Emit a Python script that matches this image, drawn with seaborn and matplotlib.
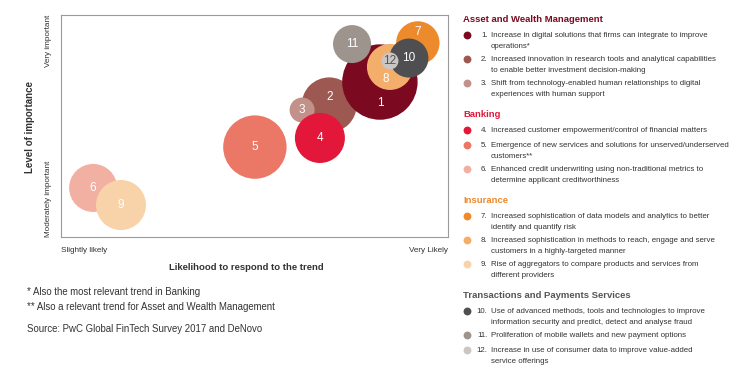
import pandas as pd
import seaborn as sns
import matplotlib.pyplot as plt

# Bubble data (x = likelihood to respond, y = level of importance, both 0-100)
trend_ids = ['1', '2', '3', '4', '5', '6', '7', '8', '9', '10', '11', '12']
likelihood = [82.4, 69.3, 62.3, 66.9, 50.1, 8.3, 92.2, 85.0, 15.5, 89.9, 75.2, 85.0]
importance = [69.8, 59.5, 57.2, 44.6, 40.5, 22.1, 87.4, 76.6, 14.4, 80.6, 86.9, 79.3]
bubble_radius = [37.7, 27.5, 12.5, 25.0, 31.7, 24.0, 21.7, 23.0, 25.0, 19.5, 19.0, 8.5]
colors = ['#7b0a20', '#9e5852', '#c1918a', '#e2173a', '#eb7767', '#f2b0a3',
          '#ec8a2c', '#f4ae6b', '#f8d2a9', '#4f4f51', '#9d948e', '#c9c6c3']
label_colors = ['white'] * 11 + ['#555555']

# Legend text
groups = ['Asset and Wealth Management', 'Banking', 'Insurance',
          'Transactions and Payments Services']
group_colors = ['#7b0a20', '#e0173a', '#ec8a2c', '#555555']
group_items = [
    [['Increase in digital solutions that firms can integrate to improve', 'operations*'],
     ['Increased innovation in research tools and analytical capabilities', 'to enable better investment decision-making'],
     ['Shift from technology-enabled human relationships to digital', 'experiences with human support']],
    [['Increased customer empowerment/control of financial matters'],
     ['Emergence of new services and solutions for unserved/underserved', 'customers**'],
     ['Enhanced credit underwriting using non-traditional metrics to', 'determine applicant creditworthiness']],
    [['Increased sophistication of data models and analytics to better', 'identify and quantify risk'],
     ['Increased sophistication in methods to reach, engage and serve', 'customers in a highly-targeted manner'],
     ['Rise of aggregators to compare products and services from', 'different providers']],
    [['Use of advanced methods, tools and technologies to improve', 'information security and predict, detect and analyse fraud'],
     ['Proliferation of mobile wallets and new payment options'],
     ['Increase in use of consumer data to improve value-added', 'service offerings']],
]
footnotes = ['* Also the most relevant trend in Banking',
             '** Also a relevant trend for Asset and Wealth Management']
source = 'Source: PwC Global FinTech Survey 2017 and DeNovo'

# which bubble sits on top of which
draw_order = ['2', '3', '4', '1', '5', '6', '9', '11', '7', '8', '10', '12']
# small nudges for the numbers inside partly hidden bubbles (points)
label_nudge = {'1': (0, -15), '2': (0, 6), '7': (0, 8), '8': (-3, -9)}

sns.set_theme(style='white')
plt.rcParams['font.family'] = ['Liberation Sans', 'DejaVu Sans']
txt = '#333333'
small = 5.9  # the original uses a narrow face; plain sans at a smaller size instead
item_fs = 5.7

df = pd.DataFrame({'id': trend_ids, 'x': likelihood, 'y': importance,
                   'r': bubble_radius, 'color': colors, 'tcolor': label_colors})
df = df.set_index('id').loc[draw_order].reset_index()

W, H, DPI = 733, 387, 100
fig = plt.figure(figsize=(W / DPI, H / DPI), dpi=DPI)
ax = fig.add_axes([61 / W, 1 - 237 / H, 387 / W, 222 / H])

# marker size in points^2 from radius in pixels
sizes = {row.id: (2 * row.r * 72 / DPI) ** 2 for row in df.itertuples()}
palette = dict(zip(df['id'], df['color']))
sns.scatterplot(data=df, x='x', y='y', hue='id', size='id', sizes=sizes,
                palette=palette, linewidth=0, alpha=1, legend=False, ax=ax)

for row in df.itertuples():
    ax.annotate(row.id, (row.x, row.y), xytext=label_nudge.get(row.id, (0, 0)),
                textcoords='offset points', ha='center', va='center',
                fontsize=8.5, color=row.tcolor)

ax.set_xlim(0, 100)
ax.set_ylim(0, 100)
ax.set_xticks([])
ax.set_yticks([])
ax.set_xlabel('')
ax.set_ylabel('')
for sp in ax.spines.values():
    sp.set_color('#9a9a9a')
    sp.set_linewidth(0.8)

# axis annotations
ax.text(0, -0.045, 'Slightly likely', transform=ax.transAxes, ha='left', va='top',
        fontsize=small, color=txt)
ax.text(1, -0.045, 'Very Likely', transform=ax.transAxes, ha='right', va='top',
        fontsize=small, color=txt)
ax.text(-0.022, 1, 'Very important', transform=ax.transAxes, ha='right', va='top',
        rotation=90, fontsize=small, color=txt)
ax.text(-0.022, 0, 'Moderately important', transform=ax.transAxes, ha='right',
        va='bottom', rotation=90, fontsize=small, color=txt)
fig.text(30 / W, 1 - 127 / H, 'Level of importance', rotation=90, ha='center',
         va='center', fontsize=7, fontweight='bold', color=txt)
fig.text(246 / W, 1 - 268 / H, 'Likelihood to respond to the trend', ha='center',
         va='center', fontsize=6.8, fontweight='bold', color=txt)

fig.text(27 / W, 1 - 292 / H, footnotes[0], ha='left', va='center', fontsize=6.9, color=txt)
fig.text(27 / W, 1 - 307 / H, footnotes[1], ha='left', va='center', fontsize=6.9, color=txt)
fig.text(27 / W, 1 - 329 / H, source, ha='left', va='center', fontsize=6.9, color=txt)

# legend on the right, drawn line by line
lax = fig.add_axes([0, 0, 1, 1])
lax.set_xlim(0, W)
lax.set_ylim(H, 0)
lax.axis('off')
y = 19.5
n = 0
for g, gname in enumerate(groups):
    lax.text(463, y, gname, ha='left', va='center', fontsize=6.8,
             fontweight='bold', color=group_colors[g])
    y += 16
    for lines in group_items[g]:
        lax.scatter([467], [y - 0.5], s=32, color=colors[n], linewidth=0)
        lax.text(487.5, y, f'{n + 1}.', ha='right', va='center', fontsize=item_fs,
                 color=txt)
        for k, line in enumerate(lines):
            lax.text(491, y + 11 * k, line, ha='left', va='center',
                     fontsize=item_fs, color=txt)
        y += 11 * (len(lines) - 1) + (13 if len(lines) > 1 else 15)
        n += 1
    y += 7

fig.savefig('out.png', dpi=DPI)
